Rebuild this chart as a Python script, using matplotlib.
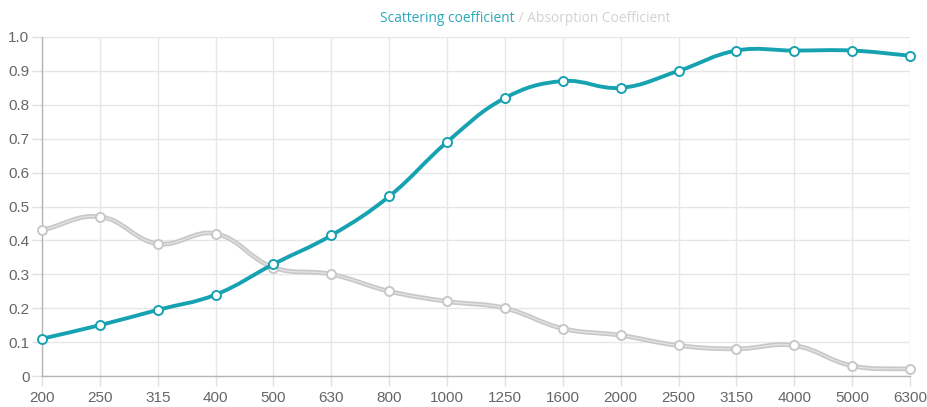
import numpy as np
import matplotlib
matplotlib.use("Agg")
import matplotlib.pyplot as plt
from matplotlib.path import Path
from matplotlib.patches import PathPatch

categories = ["200", "250", "315", "400", "500", "630", "800", "1000", "1250",
              "1600", "2000", "2500", "3150", "4000", "5000", "6300"]
scattering = [0.11, 0.15, 0.195, 0.24, 0.33, 0.415, 0.53, 0.69, 0.82,
              0.87, 0.85, 0.90, 0.96, 0.96, 0.96, 0.945]
absorption = [0.43, 0.47, 0.39, 0.42, 0.32, 0.30, 0.25, 0.22, 0.20,
              0.14, 0.12, 0.09, 0.08, 0.09, 0.03, 0.02]
yticks = [0, 0.1, 0.2, 0.3, 0.4, 0.5, 0.6, 0.7, 0.8, 0.9, 1.0]
ytick_labels = ["0", "0.1", "0.2", "0.3", "0.4", "0.5", "0.6", "0.7", "0.8", "0.9", "1.0"]

TEAL = "#17a2b2"
GRAY = "#c8c8c8"

W, H = 928, 407
fig = plt.figure(figsize=(W / 100, H / 100), dpi=100)
L, R, T, B = 42, 910, 37, 376
ax = fig.add_axes([L / W, 1 - B / H, (R - L) / W, (B - T) / H])
ax.set_xlim(0, len(categories) - 1)
ax.set_ylim(0, 1)

sx = (R - L) / (len(categories) - 1)
sy = (B - T)


def spline_path(xs, ys, t=0.4):
    P = np.column_stack([np.asarray(xs, float) * sx, np.asarray(ys, float) * sy])
    n = len(P)
    cprev = np.zeros_like(P)
    cnext = np.zeros_like(P)
    for i in range(n):
        prv = P[i - 1] if i > 0 else P[i]
        nxt = P[i + 1] if i < n - 1 else P[i]
        d01 = np.hypot(*(P[i] - prv))
        d12 = np.hypot(*(nxt - P[i]))
        tot = d01 + d12
        s01 = d01 / tot if tot else 0
        s12 = d12 / tot if tot else 0
        cprev[i] = P[i] - t * s01 * (nxt - prv)
        cnext[i] = P[i] + t * s12 * (nxt - prv)
    verts = [P[0]]
    codes = [Path.MOVETO]
    for i in range(n - 1):
        verts += [cnext[i], cprev[i + 1], P[i + 1]]
        codes += [Path.CURVE4] * 3
    verts = np.array(verts)
    verts[:, 0] /= sx
    verts[:, 1] /= sy
    return Path(verts, codes)


x = np.arange(len(categories))

# absorption (drawn first, underneath)
pa = spline_path(x, absorption)
ax.add_patch(PathPatch(pa, fill=False, edgecolor=GRAY, lw=3.4, capstyle="round",
                       joinstyle="round", zorder=3, clip_on=False))
ax.add_patch(PathPatch(pa, fill=False, edgecolor="#e2e2e2", lw=1.0, capstyle="round",
                       joinstyle="round", zorder=3.1, clip_on=False))
ax.plot(x, absorption, "o", mfc="white", mec="#c8c8c8", ms=6.5, mew=1.4,
        zorder=3.2, clip_on=False)

# scattering
ps = spline_path(x, scattering)
ax.add_patch(PathPatch(ps, fill=False, edgecolor=TEAL, lw=2.8, capstyle="round",
                       joinstyle="round", zorder=4, clip_on=False))
ax.plot(x, scattering, "o", mfc="white", mec=TEAL, ms=6.5, mew=1.4,
        zorder=4.2, clip_on=False)

ax.set_xticks(x)
ax.set_xticklabels(categories)
ax.set_yticks(yticks)
ax.set_yticklabels(ytick_labels)
ax.grid(True, color="#e6e6e6", lw=1.0)
ax.set_axisbelow(True)
for s in ["top", "right"]:
    ax.spines[s].set_visible(False)
for s in ["left", "bottom"]:
    ax.spines[s].set_color("#b5b5b5")
    ax.spines[s].set_linewidth(1.0)
ax.tick_params(axis="both", length=7.5, width=1.0, color="#e0e0e0",
               labelcolor="#666666", labelsize=11)
ax.tick_params(axis="x", pad=3)
ax.tick_params(axis="y", pad=1.5)
for lab in ax.get_xticklabels() + ax.get_yticklabels():
    lab.set_family(["Liberation Sans", "DejaVu Sans"])

# title legend
fig.text(515 / W, 1 - 18 / H, "Scattering coefficient", color="#2aa9b8",
         fontsize=9.9, family="Open Sans", ha="right", va="center")
fig.text(515 / W, 1 - 18 / H, " / Absorption Coefficient", color="#d2d2d2",
         fontsize=9.9, family="Open Sans", ha="left", va="center")

fig.savefig("out.png", dpi=100)
